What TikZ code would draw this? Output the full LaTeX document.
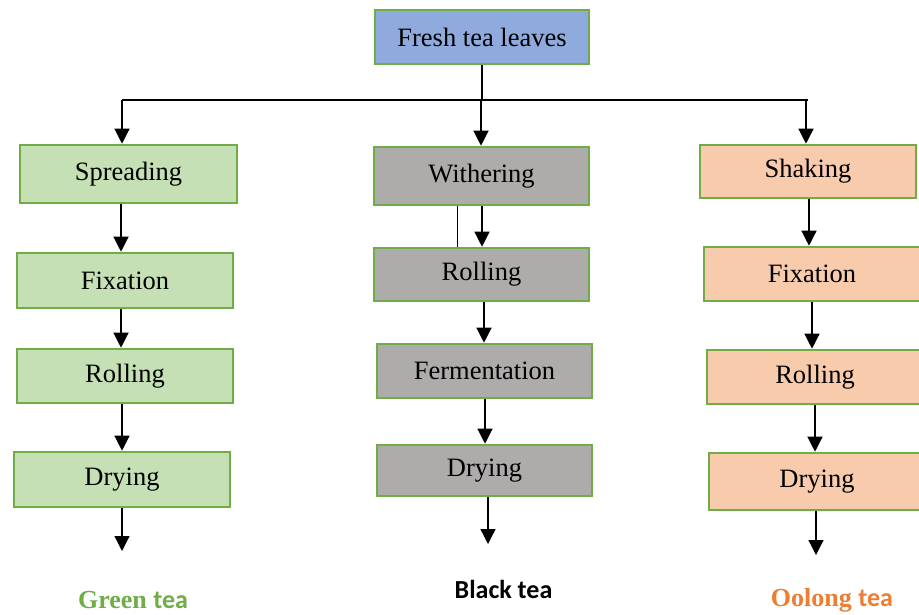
\documentclass[tikz,border=0pt]{standalone}
\usepackage{fontspec}
\setmainfont{Liberation Serif}
\newfontfamily\calfont{Carlito}
\usetikzlibrary{arrows.meta}

\definecolor{edgegreen}{HTML}{70AD47}
\definecolor{topblue}{HTML}{8FAADC}
\definecolor{greenfill}{HTML}{C5E0B4}
\definecolor{blackfill}{HTML}{AEABAB}
\definecolor{oolongfill}{HTML}{F8CBAD}
\definecolor{greentext}{HTML}{70AD47}
\definecolor{oolongtext}{HTML}{ED7D31}

\tikzset{
  stage/.style={draw=edgegreen, line width=2.6pt, rectangle, inner sep=0pt,
    font=\fontsize{26.5}{30}\selectfont, text=black},
  flow/.style={line width=1.3pt, -{Triangle[length=15pt,width=15pt]}},
  plain/.style={line width=1.3pt},
  teaname/.style={anchor=base, font=\fontsize{26}{30}\selectfont\bfseries},
}

\begin{document}
\begin{tikzpicture}[x=1pt,y=-1pt]
\clip (0,0) rectangle (919,614);
\fill[white] (0,0) rectangle (919,614);

% source
\node[stage, fill=topblue, minimum width=214, minimum height=54] (top) at (482,37) {Fresh tea leaves};

% green tea column
\node[stage, fill=greenfill, minimum width=217, minimum height=58] (g1) at (128.5,174) {Spreading};
\node[stage, fill=greenfill, minimum width=216, minimum height=55] (g2) at (125,280.5) {Fixation};
\node[stage, fill=greenfill, minimum width=216, minimum height=54] (g3) at (125,376) {Rolling};
\node[stage, fill=greenfill, minimum width=216, minimum height=55] (g4) at (122,479.5) {Drying};

% black tea column
\node[stage, fill=blackfill, minimum width=215, minimum height=58] (b1) at (481.5,176) {Withering};
\node[stage, fill=blackfill, minimum width=215, minimum height=53] (b2) at (481.5,274.5) {Rolling};
\node[stage, fill=blackfill, minimum width=215, minimum height=54] (b3) at (484.5,371) {Fermentation};
\node[stage, fill=blackfill, minimum width=215, minimum height=51] (b4) at (484.5,470.5) {Drying};

% oolong tea column
\node[stage, fill=oolongfill, minimum width=216, minimum height=53] (o1) at (808,171.5) {Shaking};
\node[stage, fill=oolongfill, minimum width=216, minimum height=54] (o2) at (812,274) {Fixation};
\node[stage, fill=oolongfill, minimum width=216, minimum height=54] (o3) at (815,377) {Rolling};
\node[stage, fill=oolongfill, minimum width=216, minimum height=57] (o4) at (817,481.5) {Drying};

% branch points
\coordinate (hm) at (482,100);
\coordinate (hl) at (122,100);
\coordinate (hr) at (808,100);
\coordinate (gend) at (122,551);
\coordinate (bend) at (488,544);
\coordinate (oend) at (816,555);

\draw[plain] (top.south) -- (hm);
\draw[plain] (hl) -- (hr);
\draw[flow] (hl) -- ([xshift=-6.5pt]g1.north);
\draw[flow] ([xshift=-1pt]hm) -- ([xshift=-0.5pt]b1.north);
\draw[flow] ([xshift=-2pt]hr) -- ([xshift=-2pt]o1.north);

% green tea steps
\draw[flow] ([xshift=-7.5pt]g1.south) -- ([xshift=-4pt]g2.north);
\draw[flow] ([xshift=-4pt]g2.south) -- ([xshift=-4pt]g3.north);
\draw[flow] ([xshift=-3pt]g3.south) -- (g4.north);
\draw[flow] (g4.south) -- (gend);

% black tea steps
\draw[plain, line width=1pt] ([xshift=-24.5pt]b1.south) -- ([xshift=-24.5pt]b2.north);
\draw[flow] ([xshift=0.5pt]b1.south) -- ([xshift=0.5pt]b2.north);
\draw[flow] ([xshift=2.5pt]b2.south) -- ([xshift=-0.5pt]b3.north);
\draw[flow] ([xshift=0.5pt]b3.south) -- ([xshift=0.5pt]b4.north);
\draw[flow] ([xshift=3.5pt]b4.south) -- (bend);

% oolong tea steps
\draw[flow] ([xshift=1pt]o1.south) -- ([xshift=-3pt]o2.north);
\draw[flow] (o2.south) -- ([xshift=-3pt]o3.north);
\draw[flow] (o3.south) -- ([xshift=-2pt]o4.north);
\draw[flow] ([xshift=-1pt]o4.south) -- (oend);

% products
\node[teaname, text=greentext] (green) at (133,608) {Green {\calfont tea}};
\node[teaname, text=black] (black) at (503.5,598) {\calfont Black tea};
\node[teaname, text=oolongtext] (oolong) at (832,606) {Oolong {\calfont tea}};
\end{tikzpicture}
\end{document}
